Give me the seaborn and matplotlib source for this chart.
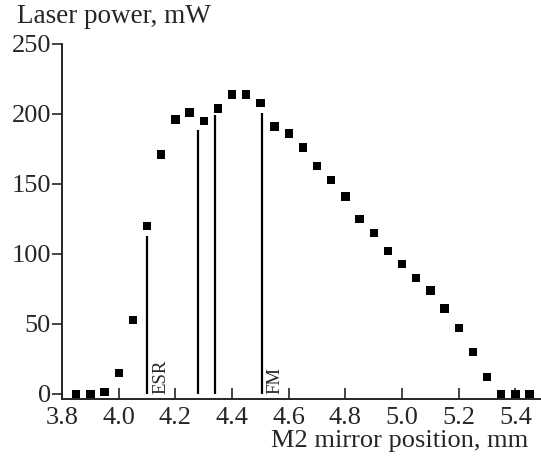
import matplotlib
matplotlib.use("Agg")
import matplotlib.pyplot as plt
import seaborn as sns
import pandas as pd

# Measured laser power vs M2 mirror position
position = [3.85, 3.90, 3.95, 4.00, 4.05, 4.10, 4.15, 4.20, 4.25, 4.30, 4.35,
            4.40, 4.45, 4.50, 4.55, 4.60, 4.65, 4.70, 4.75, 4.80, 4.85, 4.90,
            4.95, 5.00, 5.05, 5.10, 5.15, 5.20, 5.25, 5.30, 5.35, 5.40, 5.45]
power = [0, 0, 1.5, 15, 53, 120, 171, 196, 201, 195, 204,
         214, 214, 208, 191, 186, 176, 163, 153, 141, 125, 115,
         102, 93, 83, 74, 61, 47, 30, 12, 0, 0, 0]

# vertical marker lines
line_pos = [4.10, 4.28, 4.34, 4.505]
line_height = [113, 188.5, 199.5, 201]
line_labels = ["ESR", "", "", "FM"]

df = pd.DataFrame({"position": position, "power": power})

sns.set_style("ticks")
plt.rcParams['font.family'] = ['Liberation Serif', 'DejaVu Serif']

fig = plt.figure(figsize=(5.41, 4.59), dpi=100)
ax = fig.add_axes([0.1146, 0.1307, 0.8854, 0.7735])

sns.scatterplot(data=df, x="position", y="power", marker="s", s=36,
                color="black", edgecolor="none", ax=ax, zorder=3)

for xp, h, lab in zip(line_pos, line_height, line_labels):
    ax.vlines(xp, 0, h, color="black", linewidth=1.6)
    if lab:
        ax.text(xp + 0.018, 0, lab, rotation=90, ha="left", va="bottom",
                fontsize=13.5)

ax.set_xlim(3.8, 5.49)
ax.set_ylim(-3.6, 250)
ax.set_xticks([3.8, 4.0, 4.2, 4.4, 4.6, 4.8, 5.0, 5.2, 5.4])
ax.set_xticklabels(["3.8", "4.0", "4.2", "4.4", "4.6", "4.8", "5.0", "5.2", "5.4"])
ax.set_yticks([0, 50, 100, 150, 200, 250])
ax.tick_params(axis="x", direction="in", length=8, width=1.2, labelsize=19, pad=6)
ax.tick_params(axis="y", direction="out", length=7, width=1.2, labelsize=19, pad=1)
for s in ["left", "bottom"]:
    ax.spines[s].set_linewidth(1.4)
sns.despine(ax=ax)

ax.set_xlabel("")
ax.set_ylabel("")
fig.text(0.031, 0.963, "Laser power, mW", fontsize=19.5, ha="left", va="center")
fig.text(0.976, 0.04, "M2 mirror position, mm", fontsize=19, ha="right", va="center")

fig.savefig("out.png", dpi=100)
